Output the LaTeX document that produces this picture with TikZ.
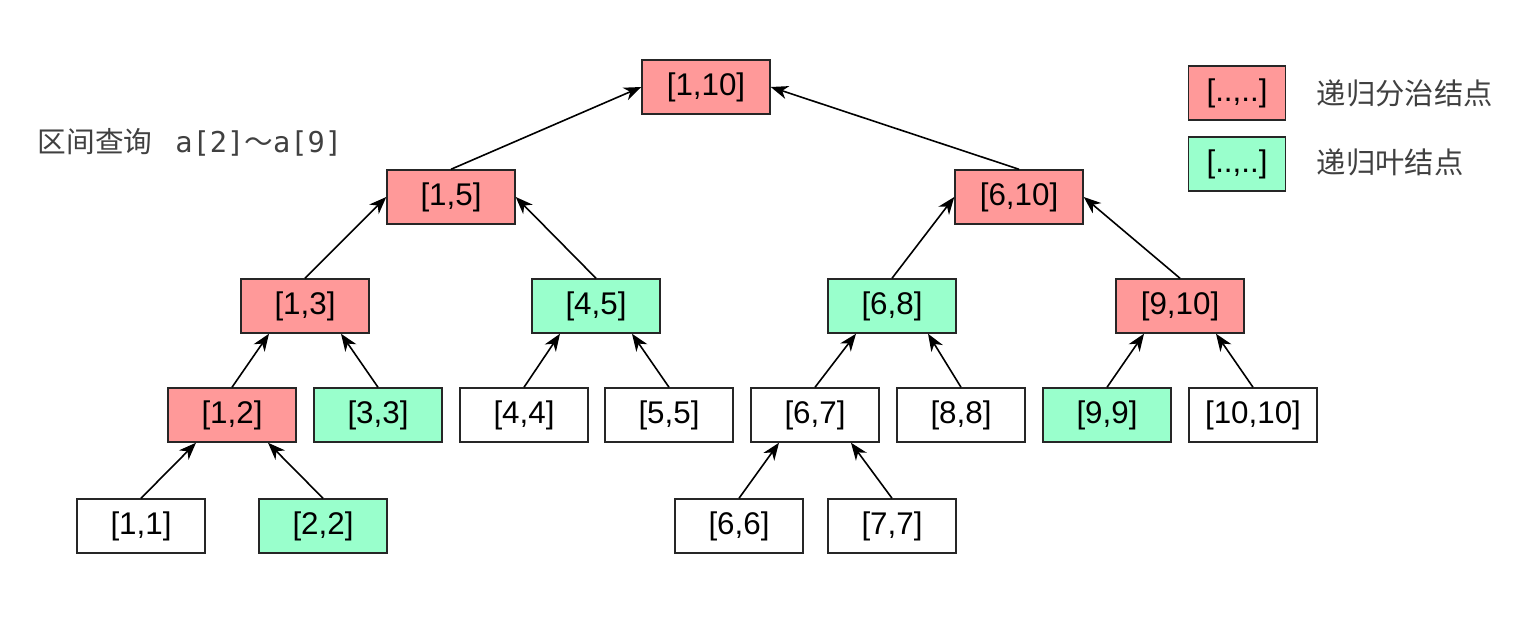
\documentclass[tikz,border=0pt]{standalone}
\usepackage{fontspec}
\usetikzlibrary{arrows.meta}
\setmainfont{Liberation Sans}
\setmonofont{DejaVu Sans Mono}
\newfontfamily\cjk{Noto Sans CJK SC}
\definecolor{divc}{HTML}{FF9999}
\definecolor{leafc}{HTML}{99FFCC}
\definecolor{txtc}{HTML}{404040}
\begin{document}
\begin{tikzpicture}[x=0.75pt,y=-0.75pt,->,>={Stealth[length=13pt,width=10pt,inset=4pt]},line width=1.2pt,
  seg/.style={draw=black!85,line width=1.1pt,minimum width=96pt,minimum height=40.5pt,inner sep=0pt,font=\fontsize{23.5}{28}\selectfont},
  div/.style={seg,fill=divc},
  leaf/.style={seg,fill=leafc},
  key/.style={seg,minimum width=72.75pt},
  note/.style={anchor=west,inner sep=0pt,text=txtc,font=\fontsize{22}{26}\selectfont\cjk}]
\useasboundingbox (0,0) rectangle (1526,622);
\node[div] (n110) at (706,87) {[1,10]};
\node[div] (n15) at (451,197) {[1,5]};
\node[div] (n610) at (1019,197) {[6,10]};
\node[div] (n13) at (305,306) {[1,3]};
\node[leaf] (n45) at (596,306) {[4,5]};
\node[leaf] (n68) at (892,306) {[6,8]};
\node[div] (n910) at (1180,306) {[9,10]};
\node[div] (n12) at (232,415) {[1,2]};
\node[leaf] (n33) at (378,415) {[3,3]};
\node[seg] (n44) at (524,415) {[4,4]};
\node[seg] (n55) at (669,415) {[5,5]};
\node[seg] (n67) at (815,415) {[6,7]};
\node[seg] (n88) at (961,415) {[8,8]};
\node[leaf] (n99) at (1107,415) {[9,9]};
\node[seg] (n1010) at (1253,415) {[10,10]};
\node[seg] (n11) at (141,526) {[1,1]};
\node[leaf] (n22) at (323,526) {[2,2]};
\node[seg] (n66) at (739,526) {[6,6]};
\node[seg] (n77) at (892,526) {[7,7]};
\node[key,fill=divc] (kdiv) at (1237,93) {[..,..]};
\node[key,fill=leafc] (kleaf) at (1237,164) {[..,..]};
\node[note] (tdiv) at (1316,93) {递归分治结点};
\node[note] (tleaf) at (1316,162) {递归叶结点};
\node[note,font=\fontsize{21.5}{26}\selectfont\cjk] (query) at (37,142) {区间查询\hspace{0.8em}{\ttfamily a[2]}～{\ttfamily a[9]}};
\draw (n15.north) -- (n110.west);
\draw (n610.north) -- (n110.east);
\draw (n13.north) -- (n15.west);
\draw (n45.north) -- (n15.east);
\draw (n68.north) -- (n610.west);
\draw (n910.north) -- (n610.east);
\draw (n12.north) -- ([xshift=-27pt]n13.south);
\draw (n33.north) -- ([xshift=27pt]n13.south);
\draw (n44.north) -- ([xshift=-27pt]n45.south);
\draw (n55.north) -- ([xshift=27pt]n45.south);
\draw (n67.north) -- ([xshift=-27pt]n68.south);
\draw (n88.north) -- ([xshift=27pt]n68.south);
\draw (n99.north) -- ([xshift=-27pt]n910.south);
\draw (n1010.north) -- ([xshift=27pt]n910.south);
\draw (n11.north) -- ([xshift=-27pt]n12.south);
\draw (n22.north) -- ([xshift=27pt]n12.south);
\draw (n66.north) -- ([xshift=-27pt]n67.south);
\draw (n77.north) -- ([xshift=27pt]n67.south);
\end{tikzpicture}
\end{document}
